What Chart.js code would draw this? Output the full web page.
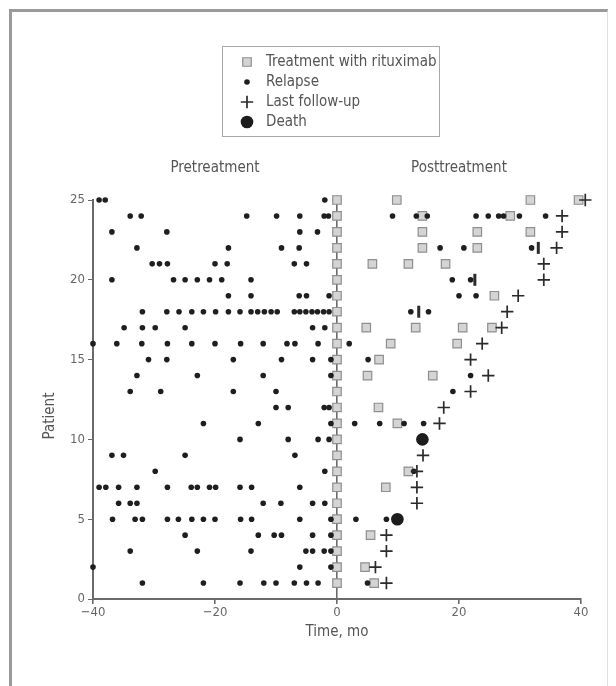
<!DOCTYPE html>
<html><head><meta charset="utf-8">
<script src="https://cdn.jsdelivr.net/npm/chart.js@4.4.0/dist/chart.umd.min.js"></script>
<style>
html,body{margin:0;padding:0;background:#fff;}
#wrap{position:relative;width:616px;height:686px;overflow:hidden;background:#fff;}
#frame{position:absolute;left:9px;top:9px;width:595px;height:720px;border-left:3px solid #9a9a9a;border-top:3px solid #9a9a9a;border-right:1px solid #e0e0e0;}
canvas{position:absolute;left:0;top:0;}
</style></head><body>
<div id="wrap"><div id="frame"></div><canvas id="c" width="616" height="686"></canvas></div>
<script>
const FONT = "'Liberation Sans Narrow','DejaVu Sans Condensed',sans-serif";

// patient numbers (y values)
const patients = [1,2,3,4,5,6,7,8,9,10,11,12,13,14,15,16,17,18,19,20,21,22,23,24,25];

// months of rituximab treatment, one list per patient (patient 1 first)
const rituximabTimes = [
  [0, 6.1], [0, 4.6], [0], [0, 5.5], [0], [0], [0, 8.0], [0, 11.7], [0], [0],
  [0, 9.9], [0, 6.8], [0], [0, 5.0, 15.7], [0, 6.9], [0, 8.8, 19.7],
  [0, 4.8, 12.9, 20.6, 25.4], [0], [0, 25.8], [0], [0, 5.8, 11.7, 17.8],
  [0, 14.0, 23.0], [0, 14.0, 23.0, 31.7], [0, 14.0, 28.4], [0, 9.8, 31.7, 39.6]
];

// months of relapses, one list per patient
const relapseTimes = [
  [-31.9, -21.9, -15.9, -12.0, -10.0, -7.0, -5.0, -3.1, 5.0],
  [-40, -6.1, -1.0],
  [-33.9, -22.9, -14.1, -5.1, -4.0, -2.1, -1.0],
  [-24.9, -12.9, -10.3, -9.1, -4.0, -1.0],
  [-36.8, -33.1, -31.9, -27.8, -26.0, -23.8, -21.9, -20.0, -15.8, -14.0, -6.1, -1.0, 3.1, 8.1],
  [-35.8, -33.9, -32.8, -12.1, -9.2, -4.0, -2.0],
  [-39.0, -37.9, -35.8, -32.8, -27.8, -23.9, -22.9, -20.9, -19.9, -15.9, -14.0, -6.1],
  [-29.8, -2.0, 12.6],
  [-36.9, -35.0, -24.9, -6.9],
  [-15.9, -8.0, -3.1, -1.3],
  [-21.9, -12.9, -1.0, 2.9, 7.0, 11.0, 14.2],
  [-10.0, -8.0, -2.1, -1.3],
  [-33.9, -28.9, -17.0, -10.0, 19.0],
  [-32.8, -22.9, -12.1, -1.0, 21.9],
  [-30.9, -27.9, -17.0, -9.1, -4.0, -1.0, 5.1],
  [-40, -36.1, -32.0, -27.8, -23.8, -20.0, -15.8, -12.1, -8.2, -6.9, -3.1, 2.0],
  [-34.9, -31.9, -29.8, -24.9, -4.0, -2.0],
  [-31.9, -27.9, -25.9, -23.8, -21.9, -19.9, -17.8, -15.9, -14.1, -13.0, -11.9, -10.8, -9.8, -7.0, -6.1, -5.1, -4.1, -3.2, -2.2, -1.3, 12.1, 15.0],
  [-17.8, -14.1, -6.2, -5.0, -1.3, 20.0, 22.8],
  [-36.9, -26.8, -24.9, -22.9, -20.9, -18.9, -14.1, 18.9, 21.9],
  [-30.3, -29.1, -27.8, -20.0, -18.0, -7.0, -5.0],
  [-32.8, -17.8, -9.1, -6.2, 16.9, 20.8, 31.9],
  [-36.9, -27.9, -6.1, -3.2],
  [-33.9, -32.1, -14.8, -9.9, -6.1, -2.1, -1.4, 9.1, 13.0, 14.8, 22.8, 24.8, 26.5, 27.3, 29.9, 34.2],
  [-39.0, -38.0, -2.0]
];

// month of last follow-up, one list per patient (empty when patient died)
const followUpTimes = [
  [8.1], [6.3], [8.1], [8.1], [], [13.1], [13.1], [13.1], [14.1], [],
  [16.8], [17.5], [21.9], [24.8], [21.9], [23.8], [27.0], [27.9], [29.7], [33.9],
  [33.9], [36.0], [36.9], [36.9], [40.7]
];

// month of death, one list per patient
const deathTimes = [
  [], [], [], [], [9.9], [], [], [], [], [14.0],
  [], [], [], [], [], [], [], [], [], [],
  [], [], [], [], []
];

// unlabeled vertical bar marks in the original figure
const barMarkTimes = [
  [], [], [], [], [], [], [], [], [], [],
  [], [], [], [], [], [], [], [13.4], [], [22.6],
  [], [33.0], [], [], []
];

const xTicks = [-40, -20, 0, 20, 40];
const yTicks = [0, 5, 10, 15, 20, 25];
const phaseLabels = ['Pretreatment', 'Posttreatment'];
const phaseCenters = [-20, 20];
const seriesLabels = ['Treatment with rituximab', 'Relapse', 'Last follow-up', 'Death'];
const xTitle = 'Time, mo';
const yTitle = 'Patient';

const toPoints = lists => lists.flatMap((times, i) => times.map(t => ({x: t, y: patients[i]})));

const datasets = [
  {label: seriesLabels[2], data: toPoints(followUpTimes), pointStyle: 'cross', pointRadius: 6.2,
   borderColor: '#2b2b2b', backgroundColor: '#2b2b2b', pointBorderWidth: 1.7, clip: false},
  {label: seriesLabels[3], data: toPoints(deathTimes), pointStyle: 'circle', pointRadius: 6.3,
   borderColor: '#1c1c1c', backgroundColor: '#1c1c1c', pointBorderWidth: 0, clip: false},
  {label: seriesLabels[1], data: toPoints(relapseTimes), pointStyle: 'circle', pointRadius: 2.8,
   borderColor: '#1e1e1e', backgroundColor: '#1e1e1e', pointBorderWidth: 0, clip: false},
  {label: '', data: toPoints(barMarkTimes), pointStyle: 'line', pointRotation: 90, pointRadius: 6,
   borderColor: '#2b2b2b', backgroundColor: '#2b2b2b', pointBorderWidth: 3, clip: false},
  {label: seriesLabels[0], data: toPoints(rituximabTimes), pointStyle: 'rect', pointRadius: 6,
   borderColor: '#8f8f8f', backgroundColor: '#d4d4d4', pointBorderWidth: 1.2, clip: false}
];

function drawMarker(ctx, ds, x, y) {
  ctx.save();
  ctx.fillStyle = ds.backgroundColor;
  ctx.strokeStyle = ds.borderColor;
  ctx.lineWidth = ds.pointBorderWidth;
  Chart.helpers.drawPoint(ctx, {
    pointStyle: ds.pointStyle, rotation: ds.pointRotation || 0,
    radius: ds.pointRadius, borderWidth: ds.pointBorderWidth
  }, x, y);
  ctx.restore();
}

const decor = {
  id: 'decor',
  afterDraw(chart) {
    const {ctx, scales: {x}} = chart;
    ctx.save();
    ctx.fillStyle = '#555';
    ctx.font = `15px ${FONT}`;
    ctx.textAlign = 'center';
    ctx.textBaseline = 'middle';
    phaseLabels.forEach((t, i) => ctx.fillText(t, x.getPixelForValue(phaseCenters[i]), 168));
    // y axis title
    ctx.save();
    ctx.translate(50, 416);
    ctx.rotate(-Math.PI / 2);
    ctx.fillText(yTitle, 0, 0);
    ctx.restore();
    // legend box
    ctx.strokeStyle = '#a8a8a8';
    ctx.lineWidth = 1;
    ctx.strokeRect(222.5, 46.5, 217, 90);
    ctx.textAlign = 'left';
    seriesLabels.forEach((lab, i) => {
      const ds = chart.data.datasets.find(d => d.label === lab);
      const cy = 62 + i * 20;
      drawMarker(ctx, ds, 247, cy);
      ctx.fillStyle = '#555';
      ctx.fillText(lab, 266, cy);
    });
    ctx.restore();
  }
};

new Chart(document.getElementById('c'), {
  type: 'scatter',
  data: {datasets},
  plugins: [decor],
  options: {
    responsive: false,
    animation: false,
    events: [],
    layout: {padding: {top: 200, right: 35, bottom: 0, left: 0}},
    plugins: {legend: {display: false}, tooltip: {enabled: false}},
    scales: {
      x: {
        type: 'linear', min: -40, max: 40,
        afterBuildTicks: s => { s.ticks = xTicks.map(v => ({value: v})); },
        afterFit: s => { s.height = 87; },
        border: {color: '#6a6a6a', width: 2},
        grid: {
          color: c => (c.tick && c.tick.value === 0) ? '#6a6a6a' : 'rgba(0,0,0,0)',
          lineWidth: 1.6, tickColor: '#6a6a6a', tickLength: 5, drawOnChartArea: true
        },
        ticks: {
          color: '#666', font: {family: FONT, size: 13}, padding: 1,
          callback: v => String(v).replace('-', '\u2212')
        },
        title: {display: true, text: xTitle, color: '#555', font: {family: FONT, size: 15}, padding: {top: 4, bottom: 45}}
      },
      y: {
        type: 'linear', min: 0, max: 25,
        afterBuildTicks: s => { s.ticks = yTicks.map(v => ({value: v})); },
        afterFit: s => { s.width = 93; },
        border: {color: '#6a6a6a', width: 2},
        grid: {drawOnChartArea: false, color: '#6a6a6a', tickLength: 5},
        ticks: {color: '#666', font: {family: FONT, size: 13}, padding: 3},
        title: {display: false}
      }
    }
  }
});
</script>
</body></html>
